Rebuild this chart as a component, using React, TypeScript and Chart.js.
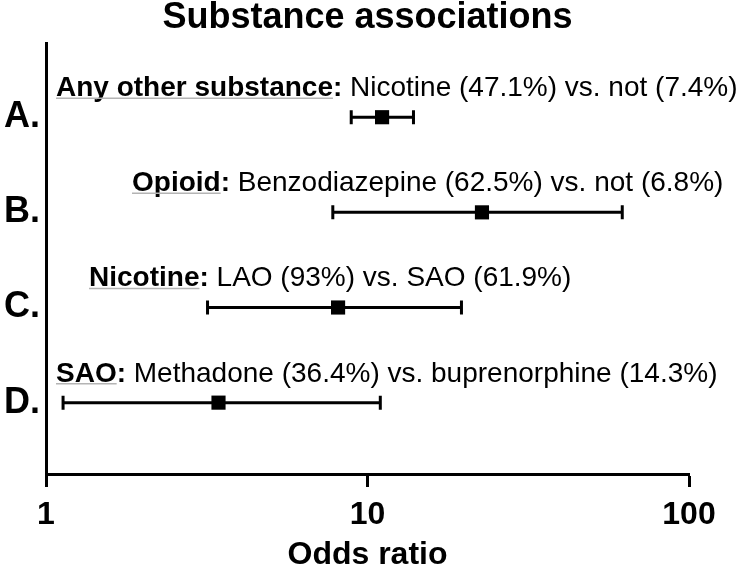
import React, { useEffect, useRef } from "react";
import { Chart, registerables } from "chart.js";

Chart.register(...registerables);

const categories = ["A.", "B.", "C.", "D."];
const oddsRatio = [11.1, 22.7, 8.1, 3.44];
const ciLow = [8.9, 7.8, 3.18, 1.13];
const ciHigh = [13.9, 62.0, 19.6, 10.96];
const noteBold = ["Any other substance:", "Opioid:", "Nicotine:", "SAO:"];
const noteText = [
  " Nicotine (47.1%) vs. not (7.4%)",
  " Benzodiazepine (62.5%) vs. not (6.8%)",
  " LAO (93%) vs. SAO (61.9%)",
  " Methadone (36.4%) vs. buprenorphine (14.3%)",
];
const xTicks = [1, 10, 100];
const chartTitle = "Substance associations";

const FONT = "'Liberation Sans', Arial, Helvetica, sans-serif";

// layout of the annotation text (pixels from the plot's left edge)
const noteOffsetPx = [10, 86, 43, 10];

const errorBarPlugin = {
  id: "errorBars",
  beforeDatasetsDraw(chart: any) {
    const { ctx, scales } = chart;
    const xs = scales.x;
    const ys = scales.y;
    ctx.save();
    ctx.strokeStyle = "#000";
    ctx.lineWidth = 3;
    ctx.lineCap = "butt";
    for (let i = 0; i < categories.length; i++) {
      const y = ys.getPixelForValue(i + 1);
      const x0 = xs.getPixelForValue(ciLow[i]);
      const x1 = xs.getPixelForValue(ciHigh[i]);
      ctx.beginPath();
      ctx.moveTo(x0, y);
      ctx.lineTo(x1, y);
      ctx.moveTo(x0, y - 7);
      ctx.lineTo(x0, y + 7);
      ctx.moveTo(x1, y - 7);
      ctx.lineTo(x1, y + 7);
      ctx.stroke();
    }
    ctx.restore();
  },
  afterDatasetsDraw(chart: any) {
    const { ctx, scales, chartArea } = chart;
    const ys = scales.y;
    ctx.save();
    // title centred over the plot area
    ctx.font = `bold 36px ${FONT}`;
    ctx.fillStyle = "#000";
    ctx.textAlign = "center";
    ctx.textBaseline = "alphabetic";
    ctx.fillText(chartTitle, (chartArea.left + chartArea.right) / 2, 28);

    ctx.textAlign = "left";
    for (let i = 0; i < categories.length; i++) {
      const yBase = ys.getPixelForValue(i + 1) - 21;
      const x = chartArea.left + noteOffsetPx[i];
      ctx.font = `bold 28px ${FONT}`;
      ctx.fillStyle = "#000";
      ctx.fillText(noteBold[i], x, yBase);
      const wb = ctx.measureText(noteBold[i]).width;
      const wul = ctx.measureText(noteBold[i].replace(/:$/, "")).width;
      ctx.strokeStyle = "#b4b4b4";
      ctx.lineWidth = 1.5;
      ctx.beginPath();
      ctx.moveTo(x, yBase + 2);
      ctx.lineTo(x + wul, yBase + 2);
      ctx.stroke();
      ctx.font = `28px ${FONT}`;
      ctx.fillText(noteText[i], x + wb, yBase);
    }
    ctx.restore();
  },
};

export default function App() {
  const ref = useRef<HTMLCanvasElement | null>(null);
  useEffect(() => {
    if (!ref.current) return;
    const chart = new Chart(ref.current, {
      type: "scatter",
      data: {
        datasets: [
          {
            label: "Odds ratio",
            data: oddsRatio.map((v, i) => ({ x: v, y: i + 1 })),
            pointStyle: "rect",
            pointRadius: 10,
            pointBackgroundColor: "#000",
            pointBorderColor: "#000",
            pointBorderWidth: 0,
          },
        ],
      },
      options: {
        responsive: false,
        animation: false,
        devicePixelRatio: 1,
        layout: { padding: { left: 0, right: 61, top: 43, bottom: 0 } },
        plugins: {
          legend: { display: false },
          tooltip: { enabled: false },
          title: { display: false },
        },
        scales: {
          x: {
            type: "logarithmic",
            min: 1,
            max: 100,
            afterBuildTicks: (s: any) => {
              s.ticks = xTicks.map((v) => ({ value: v, major: true }));
            },
            afterFit: (s: any) => {
              s.height = 100;
            },
            ticks: {
              color: "#000",
              font: { family: FONT, size: 32, weight: "bold" },
              padding: 9,
              maxRotation: 0,
              autoSkip: false,
              callback: (v: any) => String(v),
            },
            grid: {
              drawOnChartArea: false,
              drawTicks: true,
              tickLength: 13,
              tickWidth: 3,
              tickColor: "#000",
            },
            border: { display: true, color: "#000", width: 3 },
            title: {
              display: true,
              text: "Odds ratio",
              color: "#000",
              font: { family: FONT, size: 32, weight: "bold" },
              padding: { top: 2, bottom: 0 },
            },
          },
          y: {
            type: "linear",
            reverse: true,
            min: 0.22,
            max: 4.75,
            afterBuildTicks: (s: any) => {
              s.ticks = categories.map((_, i) => ({ value: i + 1 }));
            },
            afterFit: (s: any) => {
              s.width = 46;
            },
            ticks: {
              color: "#000",
              font: { family: FONT, size: 36, weight: "bold" },
              padding: 6,
              callback: (v: any) => categories[Math.round(v) - 1] ?? "",
            },
            grid: { display: true, drawOnChartArea: false, drawTicks: false, tickLength: 0 },
            border: { display: true, color: "#000", width: 3 },
          },
        },
      },
      plugins: [errorBarPlugin],
    });
    return () => chart.destroy();
  }, []);
  return (
    <div style={{ position: "absolute", left: 0, top: 0, width: 750, height: 574, background: "#fff" }}>
      <canvas ref={ref} width={750} height={574} style={{ display: "block" }} />
    </div>
  );
}
